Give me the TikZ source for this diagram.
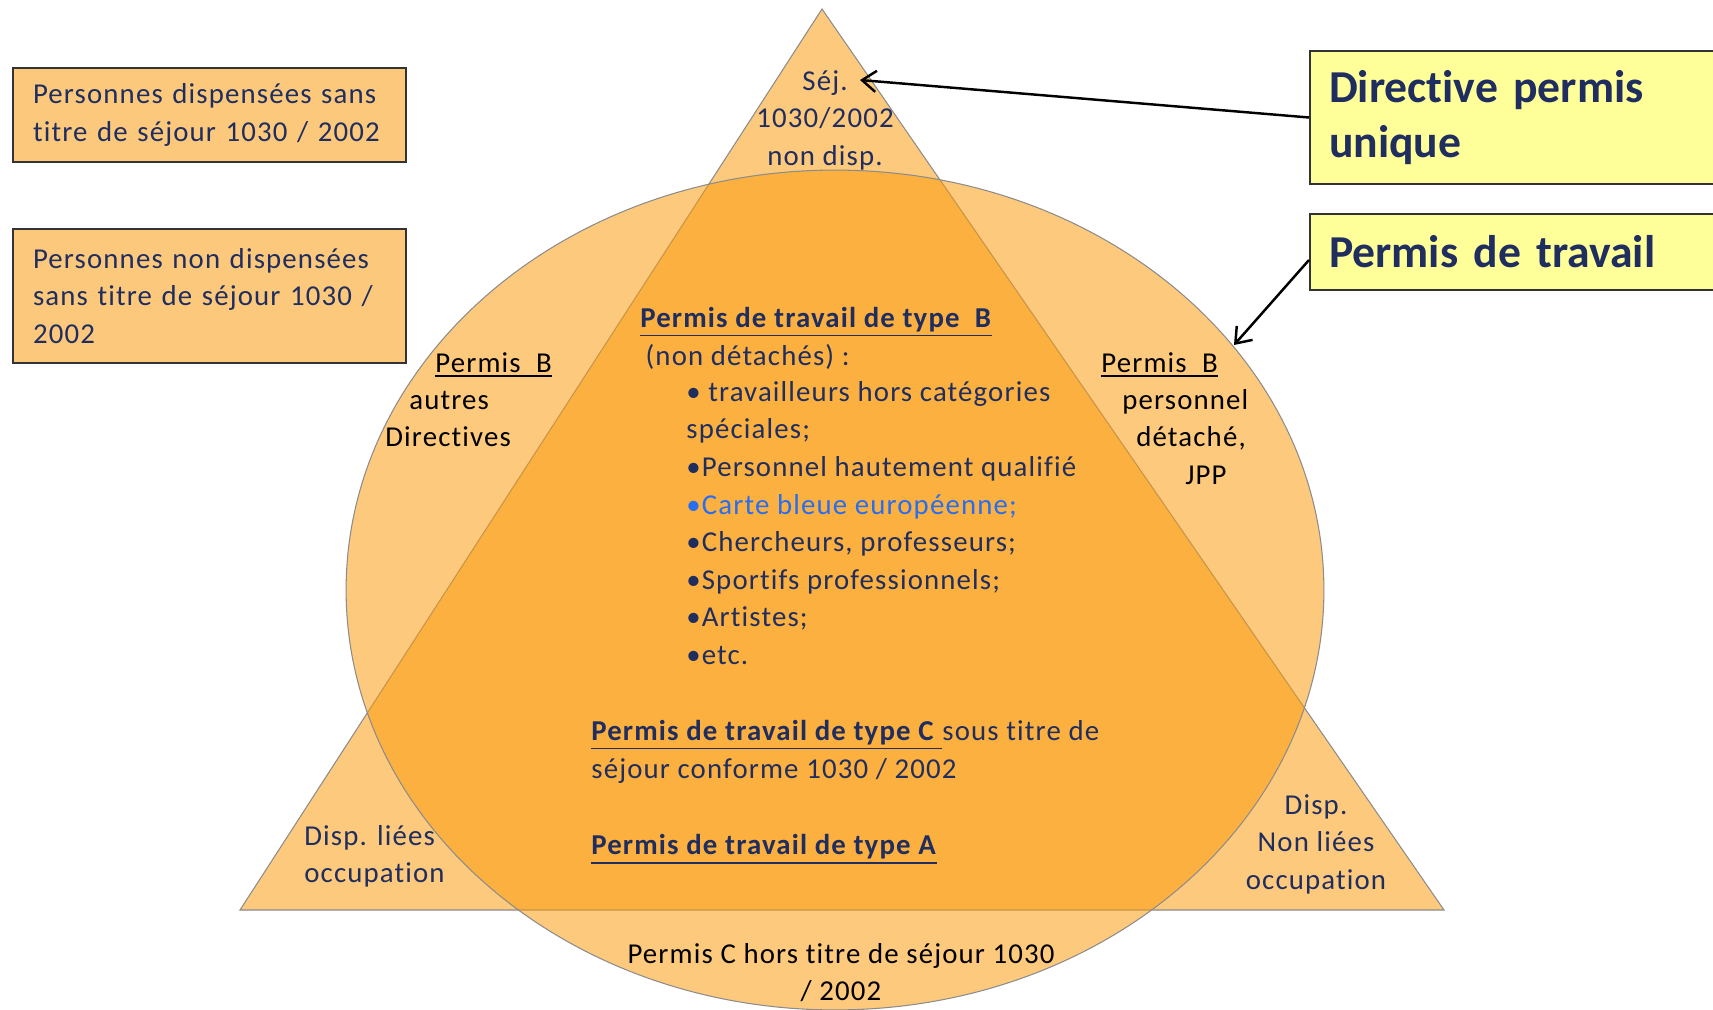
\documentclass[tikz,border=0pt]{standalone}
\usepackage{fontspec}
\setmainfont{Carlito}[Ligatures=NoCommon]
\usetikzlibrary{arrows.meta}
\newcommand{\ulin}[1]{\leavevmode\vtop{\hbox{#1}\kern1.6pt\hrule height 0.9pt}}
\definecolor{navy}{RGB}{31,45,95}
\definecolor{peach}{RGB}{252,201,124}
\definecolor{amber}{RGB}{251,155,13}
\definecolor{lemon}{RGB}{255,255,153}
\definecolor{cbblue}{RGB}{40,110,240}
\tikzset{
  shapefill/.style={fill=amber, fill opacity=0.54, draw=black!45, line width=0.6pt},
  infobox/.style={draw=black!80, line width=1.2pt, fill=peach, inner xsep=0.4cm,
    text width=7.06cm, minimum height=#1, align=left, text=navy,
    font=\fontsize{16.4}{21.4}\selectfont\addfontfeature{LetterSpace=4}},
  notebox/.style={draw=black!80, line width=1.2pt, fill=lemon, inner xsep=0.38cm,
    text width=7.46cm, minimum height=#1, align=left, text=navy,
    font=\bfseries\fontsize{26}{31.7}\selectfont},
  body/.style={inner sep=0pt, text=navy,
    font=\fontsize{16.4}{21.4}\selectfont\addfontfeature{LetterSpace=4}},
  lbl/.style={body, text=black, text height=10.5pt, text depth=0pt},
  pointer/.style={line width=1.4pt, -{Straight Barb[length=8pt,width=12pt]}},
}
\begin{document}
\begin{tikzpicture}[x=0.02cm, y=-0.02cm]
  \useasboundingbox (0,0) rectangle (1713,1010);

  % Triangle and ellipse
  \path[shapefill] (822,9) -- (240,910) -- (1444,910) -- cycle;
  \path[shapefill] (835,590) ellipse [x radius=9.78cm, y radius=8.4cm];

  % Boxes on the left
  \node[infobox=1.88cm] (dispbox) at (209.5,115)
    {Personnes dispensées sans\\titre de séjour 1030 / 2002};
  \node[infobox=2.68cm] (nondispbox) at (209.5,296)
    {Personnes non dispensées\\sans titre de séjour 1030 /\\2002};

  % Boxes on the right
  \node[notebox=2.66cm, anchor=west] (dirbox) at (1309,117.5)
    {Directive permis\\unique};
  \node[notebox=1.52cm, anchor=west] (travbox) at (1309,252)
    {Permis de travail};

  % Top of the triangle
  \node[body, align=center, anchor=north] (sej) at (825,70)
    {Séj.\\1030/2002\\non disp.};
  \coordinate (sejtip) at (860,80);
  \coordinate (ovaltip) at (1234,345);
  \draw[pointer] (dirbox.west) -- (sejtip);
  \draw[pointer] ([yshift=-0.16cm]travbox.west) -- (ovaltip);

  % Permis B, left
  \node[lbl, anchor=west] (pbl) at (435,363) {\ulin{Permis~~B}};
  \node[lbl, anchor=west] (pbl2) at (409,400) {autres};
  \node[lbl, anchor=west] (pbl3) at (385,437) {Directives};

  % Permis B, right
  \node[lbl, anchor=west] (pbr) at (1101,363) {\ulin{Permis~~B}};
  \node[lbl, anchor=west] (pbr2) at (1122,400) {personnel};
  \node[lbl, anchor=west] (pbr3) at (1136,437) {détaché,};
  \node[lbl, anchor=west] (pbr4) at (1185,475) {JPP};

  % Type B
  \node[body, align=left, anchor=north west] (typeb) at (640,307)
    {\ulin{\textbf{Permis de travail de type~~B}}\\\hspace*{3pt}(non détachés) :};
  \node[body, align=left, anchor=north west] (typeblist) at (686,381)
    {• travailleurs hors catégories\\spéciales;\\•Personnel hautement qualifié\\
     {\color{cbblue}•Carte bleue européenne;}\\•Chercheurs, professeurs;\\
     •Sportifs professionnels;\\•Artistes;\\•etc.};

  % Type C and type A
  \node[body, align=left, anchor=north west] (typec) at (591,720)
    {\ulin{\textbf{Permis de travail de type C }}sous titre de\\séjour conforme 1030 / 2002};
  \node[body, align=left, anchor=north west] (typea) at (591,834)
    {\ulin{\textbf{Permis de travail de type A}}};

  % Corners of the triangle
  \node[body, align=left, anchor=north west] (liees) at (304,825)
    {Disp. liées\\occupation};
  \node[body, align=center, anchor=north] (nonliees) at (1316,794)
    {Disp.\\Non liées\\occupation};

  % Bottom of the ellipse
  \node[body, text=black, align=center, anchor=north] (permisc) at (841,943)
    {Permis C hors titre de séjour 1030\\/ 2002};
\end{tikzpicture}
\end{document}
